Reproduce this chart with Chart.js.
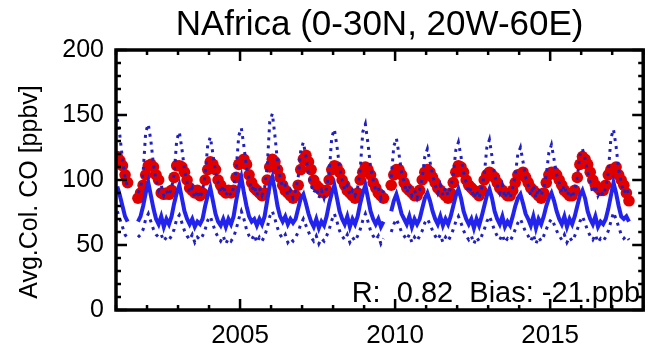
<!DOCTYPE html>
<html>
<head>
<meta charset="utf-8">
<script src="https://cdn.jsdelivr.net/npm/chart.js@4/dist/chart.umd.min.js"></script>
<style>
  html, body { margin: 0; padding: 0; background: #fff; }
  #wrap { width: 649px; height: 353px; }
</style>
</head>
<body>
<div id="wrap"><canvas id="c" width="649" height="353"></canvas></div>
<script>
// ---------------- DATA ----------------
const titleText = 'NAfrica (0-30N, 20W-60E)';
const yAxisTitle = 'Avg.Col. CO [ppbv]';
const statsText = 'R:  0.82  Bias: -21.ppb';
const startYear = 2001;               // monthly series start (Jan 2001)
const xTickYears = [2005, 2010, 2015];
const yTickValues = [0, 50, 100, 150, 200];

// Observations (red dots), monthly Jan..Dec per row
const obsCO = [
  118, 115, 111, 104,  98, null, null, null,  86,  90,  96, 104, // 2001
  111, 112, 110, 104, 100,  90,  89,  90,  89,  92, 102, 111,    // 2002
  111, 110, 106, 100,  94,  92,  90,  92,  88,  90, 100, 108,    // 2003
  114, 112, 108, 100,  96,  92,  90,  92,  90,  92, 102, 112,    // 2004
  114, 116, 112, 104,  98,  94,  92,  90,  88,  90, 100, 110,    // 2005
  116, 114, 108, 102,  96,  92,  90,  88,  86,  88,  96, 108,    // 2006
  116, 119, 114, 108, 100,  96,  94,  92,  90,  92, 100, 108,    // 2007
  111, 110, 106, 100,  96,  92,  90,  88,  86,  90, 100, 106,    // 2008
  110, 108, 104,  98,  94,  90,  88,  86, null, null, 96, 104,   // 2009
  108, 108, 104,  98,  94,  92,  90,  88,  88,  92, 100, 106,    // 2010
  108, 106, 102,  98,  94,  92,  90,  88,  86,  90,  98, 106,    // 2011
  111, 110, 106, 100,  96,  94,  92,  90,  88,  92, 100, 104,    // 2012
  106, 104, 102,  98,  94,  92,  90,  88,  88,  92,  98, 104,    // 2013
  104, 106, 102,  98,  94,  92,  90,  88,  86,  90,  98, 104,    // 2014
  106, 106, 104, 100,  96,  92,  90,  88,  88,  92, 102, 112,    // 2015
  118, 116, 112, 106, 100,  96,  94,  92,  92,  96, 104, 108,    // 2016
  108, 110, 104, 100,  96,  90,  84                              // 2017
];

// Model mean (blue solid line)
const modelMean = [
   95,  88,  80,  72,  68, null, null, null,  68,  72,  80,  90, // 2001
   98,  88,  78,  70,  66,  72,  64,  70,  66,  72,  82,  90,    // 2002
   96,  86,  76,  70,  66,  70,  64,  68,  66,  70,  80,  88,    // 2003
   94,  84,  74,  68,  65,  70,  64,  70,  66,  72,  84,  94,    // 2004
  102,  90,  80,  72,  68,  70,  65,  70,  66,  72,  84,  96,    // 2005
  102,  92,  80,  72,  68,  72,  66,  70,  67,  70,  78,  86,    // 2006
   89,  82,  74,  68,  64,  70,  63,  68,  65,  72,  82,  90,    // 2007
   96,  86,  76,  70,  66,  72,  64,  70,  66,  72,  82,  90,    // 2008
   96,  86,  76,  70,  66,  70,  64,  68, null, null, 76,  84,   // 2009
   89,  82,  74,  70,  66,  72,  64,  70,  66,  70,  78,  86,    // 2010
   90,  84,  76,  70,  66,  72,  65,  70,  66,  72,  80,  88,    // 2011
   93,  86,  76,  70,  66,  70,  63,  70,  65,  72,  80,  88,    // 2012
   93,  86,  76,  70,  66,  72,  64,  68,  65,  72,  80,  86,    // 2013
   89,  82,  74,  70,  65,  72,  63,  70,  66,  72,  80,  86,    // 2014
   90,  84,  76,  70,  66,  72,  64,  70,  66,  72,  80,  88,    // 2015
   92,  86,  76,  70,  66,  72,  64,  68,  66,  70,  78,  88,    // 2016
   98,  90,  80,  72,  70,  72,  68                              // 2017
];

// Model upper envelope (blue dotted)
const modelUpper = [
  147, 134, 116, 102,  94, null, null, null,  90,  94, 106, 137, // 2001
  143, 130, 112, 100,  92,  96,  88,  92,  88,  94, 104, 131,    // 2002
  137, 124, 108,  98,  90,  94,  86,  92,  86,  92, 104, 127,    // 2003
  133, 120, 106,  98,  90,  96,  88,  92,  88,  94, 108, 134,    // 2004
  140, 126, 110, 100,  92,  96,  88,  94,  88,  94, 110, 145,    // 2005
  151, 134, 114, 102,  94,  96,  88,  92,  86,  92, 102, 123,    // 2006
  129, 118, 104,  96,  90,  94,  86,  92,  86,  94, 106, 133,    // 2007
  139, 126, 110, 100,  92,  96,  88,  92,  88,  94, 108, 137,    // 2008
  143, 128, 110, 100,  92,  94,  86,  92, null, null, 102, 126,  // 2009
  132, 120, 106,  98,  90,  96,  88,  92,  86,  92, 102, 118,    // 2010
  124, 114, 104,  96,  90,  96,  88,  94,  88,  94, 104, 123,    // 2011
  129, 118, 106,  98,  90,  94,  86,  92,  86,  94, 104, 125,    // 2012
  131, 118, 104,  96,  90,  96,  86,  92,  86,  94, 104, 120,    // 2013
  125, 114, 102,  96,  88,  96,  86,  94,  88,  94, 104, 121,    // 2014
  127, 116, 104,  98,  90,  96,  88,  92,  86,  92, 102, 119,    // 2015
  124, 116, 106,  98,  90,  96,  88,  92,  88,  94, 106, 132,    // 2016
  139, 126, 108,  98,  90,  94,  88                              // 2017
];

// Model lower envelope (blue dotted)
const modelLower = [
   76,  70,  64,  58,  55, null, null, null,  56,  58,  62,  70, // 2001
   74,  68,  62,  58,  56,  58,  53,  56,  54,  57,  62,  70,    // 2002
   73,  67,  61,  57,  54,  58,  52,  56,  54,  57,  62,  69,    // 2003
   72,  66,  60,  56,  53,  57,  51,  55,  53,  56,  62,  70,    // 2004
   76,  70,  62,  57,  54,  58,  52,  56,  53,  57,  63,  72,    // 2005
   76,  70,  63,  58,  55,  58,  52,  55,  53,  56,  60,  66,    // 2006
   70,  65,  60,  56,  53,  57,  51,  55,  53,  57,  62,  69,    // 2007
   74,  68,  61,  57,  54,  58,  52,  56,  53,  57,  62,  69,    // 2008
   74,  68,  61,  57,  54,  57,  51,  55, null, null, 60,  66,   // 2009
   70,  65,  60,  57,  54,  58,  52,  56,  53,  57,  61,  67,    // 2010
   70,  66,  61,  57,  54,  58,  52,  56,  53,  57,  62,  68,    // 2011
   72,  67,  61,  57,  54,  57,  51,  56,  53,  57,  62,  68,    // 2012
   72,  67,  61,  57,  54,  58,  52,  55,  53,  57,  62,  67,    // 2013
   70,  65,  60,  57,  53,  58,  51,  56,  53,  57,  62,  67,    // 2014
   70,  66,  61,  57,  54,  58,  52,  56,  53,  57,  62,  68,    // 2015
   72,  67,  61,  57,  54,  58,  52,  55,  53,  56,  61,  68,    // 2016
   75,  70,  64,  58,  55,  57,  54                              // 2017
];

// ---------------- BUILD ----------------
const monthTimes = obsCO.map((_, i) => startYear + (i + 0.5) / 12);
const toPts = arr => arr.map((v, i) => ({ x: monthTimes[i], y: v }));

const FONT = "'Liberation Sans', Arial, Helvetica, sans-serif";

const boxTicks = {
  id: 'boxTicks',
  afterDraw(chart) {
    const { ctx, chartArea: a, scales: { x, y } } = chart;
    ctx.save();
    ctx.strokeStyle = '#000';
    ctx.lineWidth = 2.5;
    ctx.lineCap = 'butt';
    ctx.beginPath();
    for (let v = y.min; v <= y.max + 1e-6; v += 10) {
      const p = y.getPixelForValue(v);
      const len = (v % 50 === 0) ? 11 : 5;
      ctx.moveTo(a.left, p); ctx.lineTo(a.left + len, p);
      ctx.moveTo(a.right, p); ctx.lineTo(a.right - len, p);
    }
    for (let v = Math.ceil(x.min); v <= x.max + 1e-6; v += 1) {
      const p = x.getPixelForValue(v);
      const len = (v % 5 === 0) ? 11 : 5;
      ctx.moveTo(p, a.bottom); ctx.lineTo(p, a.bottom - len);
      ctx.moveTo(p, a.top); ctx.lineTo(p, a.top + len);
    }
    ctx.stroke();
    ctx.lineWidth = 3.5;
    ctx.strokeRect(a.left, a.top, a.right - a.left, a.bottom - a.top);
    ctx.fillStyle = '#000';
    // stats text
    ctx.font = '29px ' + FONT;
    ctx.textAlign = 'right';
    ctx.textBaseline = 'alphabetic';
    ctx.fillText(statsText, a.right - 3, a.bottom - 8);
    // y-axis title
    ctx.translate(30, 192);
    ctx.rotate(-Math.PI / 2);
    ctx.font = '25px ' + FONT;
    ctx.textAlign = 'center';
    ctx.textBaseline = 'middle';
    ctx.fillText(yAxisTitle, 0, 0);
    ctx.restore();
  }
};

new Chart(document.getElementById('c'), {
  type: 'line',
  data: {
    datasets: [
      {
        label: 'Observed',
        data: toPts(obsCO),
        showLine: false,
        pointRadius: 5.8,
        pointBackgroundColor: '#e00000',
        pointBorderColor: '#e00000',
        pointBorderWidth: 0,
        order: 3
      },
      {
        label: 'Model',
        data: toPts(modelMean),
        borderColor: '#2323ee',
        borderWidth: 4,
        pointRadius: 0,
        spanGaps: false,
        tension: 0,
        order: 2
      },
      {
        label: 'Model max',
        data: toPts(modelUpper),
        borderColor: '#2020c0',
        borderWidth: 3,
        borderDash: [3, 5],
        pointRadius: 0,
        spanGaps: false,
        order: 1
      },
      {
        label: 'Model min',
        data: toPts(modelLower),
        borderColor: '#2020c0',
        borderWidth: 3,
        borderDash: [3, 5],
        pointRadius: 0,
        spanGaps: false,
        order: 1
      }
    ]
  },
  options: {
    responsive: false,
    animation: false,
    devicePixelRatio: 1,
    layout: { padding: { left: 0, right: 4, top: 0, bottom: 0 } },
    plugins: {
      legend: { display: false },
      tooltip: { enabled: false },
      title: {
        display: true,
        text: titleText,
        fullSize: false,
        color: '#000',
        font: { family: FONT, size: 35, weight: 'normal', lineHeight: 1.2 },
        padding: { top: 4, bottom: 4 }
      }
    },
    scales: {
      x: {
        type: 'linear',
        min: 2001,
        max: 2018,
        grid: { display: false, drawTicks: false },
        border: { display: false },
        afterBuildTicks: s => { s.ticks = xTickYears.map(v => ({ value: v })); },
        ticks: {
          color: '#000',
          padding: 10,
          maxRotation: 0,
          font: { family: FONT, size: 26 },
          callback: v => String(v)
        },
        afterFit: s => { s.height = 43; }
      },
      y: {
        type: 'linear',
        min: 0,
        max: 200,
        grid: { display: false, drawTicks: false },
        border: { display: false },
        afterBuildTicks: s => { s.ticks = yTickValues.map(v => ({ value: v })); },
        ticks: {
          color: '#000',
          padding: 12,
          font: { family: FONT, size: 25 }
        },
        afterFit: s => { s.width = 116; }
      }
    }
  },
  plugins: [boxTicks]
});
</script>
</body>
</html>
